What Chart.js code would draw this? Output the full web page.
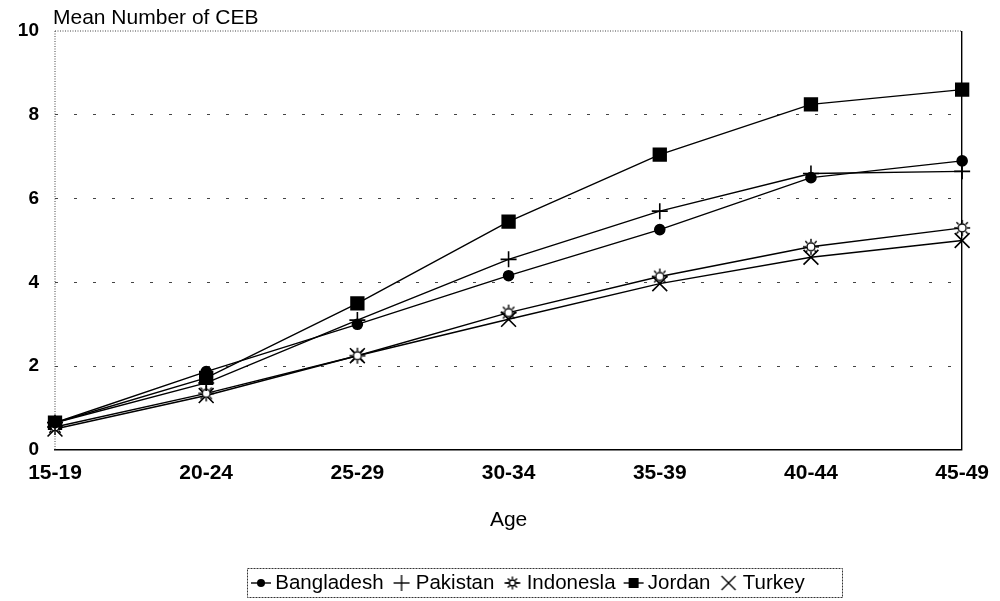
<!DOCTYPE html>
<html>
<head>
<meta charset="utf-8">
<script src="https://cdn.jsdelivr.net/npm/chart.js@4/dist/chart.umd.min.js"></script>
<style>
    body { margin: 0; background: #fff; }
    #wrap { width: 1000px; height: 601px; }
</style>
</head>
<body>
<div id="wrap"><canvas id="cebChart" width="1000" height="601"></canvas></div>
<script>
// Data
const ageGroups = ['15-19', '20-24', '25-29', '30-34', '35-39', '40-44', '45-49'];
const bangladesh = [0.65, 1.87, 3.0, 4.16, 5.26, 6.5, 6.9];
const pakistan = [0.65, 1.6, 3.1, 4.55, 5.7, 6.6, 6.65];
const indonesia = [0.55, 1.35, 2.25, 3.28, 4.14, 4.85, 5.3];
const jordan = [0.65, 1.72, 3.5, 5.45, 7.05, 8.25, 8.6];
const turkey = [0.5, 1.3, 2.25, 3.12, 3.97, 4.6, 5.0];
const yTicks = [0, 2, 4, 6, 8, 10];

const FONT = "'Liberation Sans', Arial, sans-serif";
const ICON = 22;          // legend icon canvas size
const LEGEND_BOX_W = 8;   // legend box width used by Chart.js

// Hollow "sun" marker used for Indonesia
function drawSun(g, cx, cy, r, ray) {
    g.beginPath();
    g.arc(cx, cy, r, 0, Math.PI * 2);
    g.fillStyle = '#fff';
    g.fill();
    g.stroke();
    g.beginPath();
    for (let i = 0; i < 8; i++) {
        const a = i * Math.PI / 4;
        g.moveTo(cx + (r + 1) * Math.cos(a), cy + (r + 1) * Math.sin(a));
        g.lineTo(cx + ray * Math.cos(a), cy + ray * Math.sin(a));
    }
    g.stroke();
}

function makeSun() {
    const c = document.createElement('canvas');
    c.width = 18;
    c.height = 18;
    const g = c.getContext('2d');
    g.strokeStyle = '#000';
    g.lineWidth = 1.4;
    drawSun(g, 9, 9, 4, 8);
    return c;
}

// Small legend icons: short line with the marker on it
function legendIcon(kind) {
    const c = document.createElement('canvas');
    c.width = ICON;
    c.height = 18;
    const g = c.getContext('2d');
    const m = ICON / 2;
    g.strokeStyle = '#000';
    g.fillStyle = '#000';
    g.lineWidth = 1.4;
    g.beginPath();
    if (kind === 'dot' || kind === 'square') {
        g.moveTo(1, 9);
        g.lineTo(ICON - 1, 9);
    } else if (kind === 'plus' || kind === 'sun') {
        g.moveTo(m - 8, 9);
        g.lineTo(m + 8, 9);
    }
    g.stroke();
    g.beginPath();
    if (kind === 'dot') {
        g.arc(m, 9, 4, 0, Math.PI * 2);
        g.fill();
    } else if (kind === 'plus') {
        g.moveTo(m, 1);
        g.lineTo(m, 17);
        g.stroke();
    } else if (kind === 'sun') {
        drawSun(g, m, 9, 3, 6.5);
    } else if (kind === 'square') {
        g.fillRect(m - 5, 4, 10, 10);
    } else if (kind === 'x') {
        g.moveTo(m - 7, 2);
        g.lineTo(m + 7, 16);
        g.moveTo(m + 7, 2);
        g.lineTo(m - 7, 16);
        g.stroke();
    }
    return c;
}

const legendKinds = ['dot', 'plus', 'sun', 'square', 'x'];

function series(label, data, pointStyle, radius) {
    return {
        label: label,
        data: data,
        borderColor: '#000',
        backgroundColor: '#000',
        borderWidth: 1.4,
        pointStyle: pointStyle,
        pointRadius: radius,
        pointBorderWidth: 1.6,
        tension: 0
    };
}

// Frame, y-axis caption, legend placement and legend box
const extras = {
    id: 'extras',
    afterUpdate(chart) {
        const lg = chart.legend;
        const boxes = lg.legendHitBoxes;
        if (!boxes || !boxes.length) return;
        const iconLeft = boxes[0].left + LEGEND_BOX_W / 2 - ICON / 2;
        const dx = 250 - iconLeft;
        const dy = 583 - (boxes[0].top + boxes[0].height / 2);
        lg.left += dx;
        lg.right += dx;
        lg.top += dy;
        lg.bottom += dy;
        boxes.forEach(b => { b.left += dx; b.top += dy; });
    },
    beforeDatasetsDraw(chart) {
        const { ctx, chartArea: a } = chart;
        ctx.save();
        ctx.strokeStyle = '#444';
        ctx.lineWidth = 1;
        ctx.setLineDash([1, 1.5]);
        ctx.beginPath();
        ctx.moveTo(a.left, a.top);
        ctx.lineTo(a.right, a.top);
        ctx.moveTo(a.left, a.top);
        ctx.lineTo(a.left, a.bottom);
        ctx.stroke();
        ctx.restore();
    },
    afterDraw(chart) {
        const ctx = chart.ctx;
        ctx.save();
        ctx.fillStyle = '#000';
        ctx.font = '21px ' + FONT;
        ctx.textBaseline = 'middle';
        ctx.textAlign = 'left';
        ctx.fillText('Mean Number of CEB', 53, 18);

        const boxes = chart.legend.legendHitBoxes;
        if (boxes && boxes.length) {
            const left = boxes[0].left + LEGEND_BOX_W / 2 - ICON / 2 - 3;
            const right = Math.max(...boxes.map(b => b.left + b.width)) + 37;
            const mid = boxes[0].top + boxes[0].height / 2;
            ctx.strokeStyle = '#333';
            ctx.lineWidth = 1;
            ctx.setLineDash([2, 1]);
            ctx.strokeRect(Math.round(left) + 0.5, Math.round(mid - 15) + 0.5, Math.round(right - left), 29);
        }
        ctx.restore();
    }
};

const ctx = document.getElementById('cebChart').getContext('2d');
new Chart(ctx, {
    type: 'line',
    data: {
        labels: ageGroups,
        datasets: [
            series('Bangladesh', bangladesh, 'circle', 5),
            series('Pakistan', pakistan, 'cross', 8),
            series('Indonesla', indonesia, makeSun(), 9),
            series('Jordan', jordan, 'rect', 9),
            series('Turkey', turkey, 'crossRot', 10.5)
        ]
    },
    options: {
        responsive: false,
        animation: false,
        layout: { padding: { top: 31, right: 37, left: 0, bottom: 0 } },
        plugins: {
            tooltip: { enabled: false },
            legend: {
                position: 'bottom',
                labels: {
                    usePointStyle: true,
                    boxWidth: LEGEND_BOX_W,
                    boxHeight: 16,
                    padding: 14,
                    color: '#000',
                    font: { family: FONT, size: 20.5 },
                    generateLabels: chart => {
                        const items = Chart.defaults.plugins.legend.labels.generateLabels(chart);
                        items.forEach((it, i) => { it.pointStyle = legendIcon(legendKinds[i]); });
                        return items;
                    }
                }
            }
        },
        scales: {
            x: {
                offset: false,
                grid: {
                    drawTicks: false,
                    lineWidth: 1.4,
                    color: c => c.index === ageGroups.length - 1 ? '#000' : 'rgba(0,0,0,0)'
                },
                border: { color: '#000', width: 1.6 },
                ticks: {
                    padding: 11,
                    color: '#000',
                    maxRotation: 0,
                    font: { family: FONT, size: 21, weight: 'bold' }
                },
                title: {
                    display: true,
                    text: 'Age',
                    color: '#000',
                    padding: { top: 0, bottom: 24 },
                    font: { family: FONT, size: 21 }
                },
                afterFit: s => { s.height = 106.5; }
            },
            y: {
                min: 0,
                max: 10,
                afterBuildTicks: s => { s.ticks = yTicks.map(v => ({ value: v })); },
                grid: {
                    drawTicks: false,
                    lineWidth: 1,
                    color: c => (c.tick && (c.tick.value === 0 || c.tick.value === 10)) ? 'rgba(0,0,0,0)' : '#444'
                },
                border: { display: false, dash: [3, 16] },
                ticks: {
                    padding: 16,
                    color: '#000',
                    font: { family: FONT, size: 19, weight: 'bold' }
                },
                afterFit: s => { s.width = 55; }
            }
        }
    },
    plugins: [extras]
});
</script>
</body>
</html>
